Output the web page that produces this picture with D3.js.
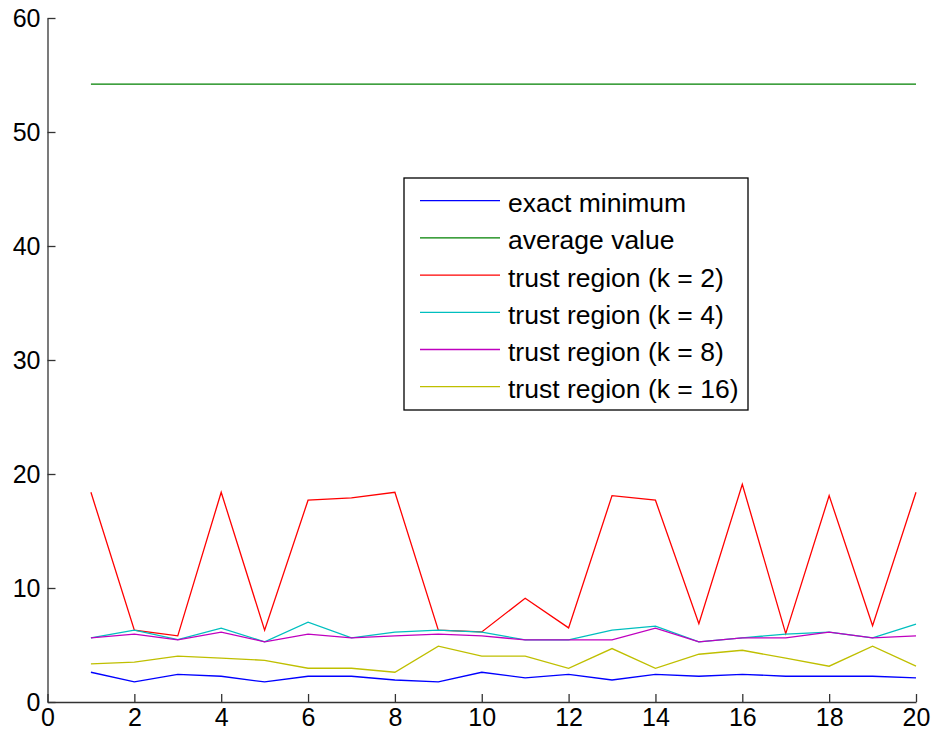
<!DOCTYPE html>
<html>
<head>
<meta charset="utf-8">
<script src="https://cdn.jsdelivr.net/npm/d3@7"></script>
<style>
  body { margin: 0; background: #fff; }
  svg text { font-family: "Liberation Sans", Arial, sans-serif; }
</style>
</head>
<body>
<div id="chart"></div>
<script>
// 数据
const xs = d3.range(1, 21);
const exactMin = [2.61, 1.76, 2.43, 2.26, 1.76, 2.26, 2.26, 1.93, 1.76, 2.61,
                  2.11, 2.43, 1.93, 2.43, 2.26, 2.43, 2.26, 2.26, 2.26, 2.11];
const averageValue = xs.map(() => 54.2);
const trustK2 = [18.4, 6.3, 5.8, 18.4, 6.3, 17.7, 17.9, 18.4, 6.3, 6.15,
                 9.1, 6.5, 18.1, 17.7, 6.86, 19.1, 6.0, 18.1, 6.7, 18.4];
const trustK4 = [5.63, 6.3, 5.48, 6.48, 5.28, 7.0, 5.63, 6.13, 6.3, 6.13,
                 5.45, 5.45, 6.3, 6.65, 5.28, 5.63, 5.95, 6.13, 5.63, 6.83];
const trustK8 = [5.63, 5.95, 5.45, 6.13, 5.28, 5.95, 5.63, 5.8, 5.95, 5.8,
                 5.45, 5.45, 5.45, 6.48, 5.28, 5.63, 5.63, 6.13, 5.63, 5.8];
const trustK16 = [3.34, 3.49, 4.02, 3.84, 3.66, 2.96, 2.96, 2.61, 4.9, 4.02,
                  4.02, 2.96, 4.69, 2.96, 4.19, 4.54, 3.84, 3.14, 4.9, 3.14];

const seriesNames = ["exact minimum", "average value", "trust region (k = 2)",
                     "trust region (k = 4)", "trust region (k = 8)", "trust region (k = 16)"];
const seriesValues = [exactMin, averageValue, trustK2, trustK4, trustK8, trustK16];
const seriesColors = ["#0000ff", "#008000", "#ff0000", "#00bfbf", "#bf00bf", "#bfbf00"];

const xTicks = d3.range(0, 21, 2);
const yTicks = d3.range(0, 61, 10);

// 尺寸
const width = 935;
const height = 738;
const margin = { left: 47.5, right: 19, top: 18, bottom: 36 };

const svg = d3.select("#chart")
    .append("svg")
    .attr("width", width)
    .attr("height", height);

const xScale = d3.scaleLinear()
    .domain([0, 20])
    .range([margin.left, width - margin.right]);

const yScale = d3.scaleLinear()
    .domain([0, 60])
    .range([height - margin.bottom, margin.top]);

// 折线
const line = d3.line()
    .x((d, i) => xScale(xs[i]))
    .y(d => yScale(d));

seriesValues.forEach((vals, k) => {
    svg.append("path")
        .datum(vals)
        .attr("fill", "none")
        .attr("stroke", seriesColors[k])
        .attr("stroke-width", 1.3)
        .attr("d", line);
});

// X轴
const xAxis = svg.append("g")
    .attr("transform", "translate(0," + yScale(0) + ")")
    .call(d3.axisBottom(xScale).tickValues(xTicks).tickSize(-8).tickSizeOuter(0).tickPadding(6));

// Y轴
const yAxis = svg.append("g")
    .attr("transform", "translate(" + xScale(0) + ",0)")
    .call(d3.axisLeft(yScale).tickValues(yTicks).tickSize(-8).tickSizeOuter(0).tickPadding(7));

[xAxis, yAxis].forEach(g => {
    g.selectAll("path, line").attr("stroke", "#333").attr("stroke-width", 1.3);
    g.selectAll("text")
        .attr("fill", "#000")
        .style("font-size", "25px")
        .style("font-family", "'Liberation Sans', Arial, sans-serif");
});

// 图例
const legend = svg.append("g").attr("transform", "translate(404,178)");
legend.append("rect")
    .attr("width", 344)
    .attr("height", 232)
    .attr("fill", "#fff")
    .attr("stroke", "#000")
    .attr("stroke-width", 1.3);

seriesNames.forEach((name, k) => {
    const y = 22.7 + k * 37.2;
    legend.append("line")
        .attr("x1", 16).attr("x2", 96)
        .attr("y1", y).attr("y2", y)
        .attr("stroke", seriesColors[k])
        .attr("stroke-width", 1.3);
    legend.append("text")
        .attr("x", 104)
        .attr("y", y + 2)
        .attr("dy", "0.36em")
        .style("font-size", "26.5px")
        .text(name);
});
</script>
</body>
</html>
